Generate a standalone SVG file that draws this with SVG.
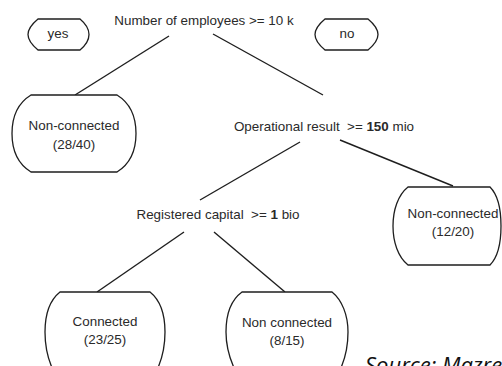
<svg xmlns="http://www.w3.org/2000/svg" width="502" height="366" viewBox="0 0 502 366">
<style>
.t{font-family:"Liberation Sans",Arial,sans-serif;font-size:13.4px;fill:#2a2a2a;text-anchor:middle;white-space:pre}
.b{fill:#fff;stroke:#1e1e1e;stroke-width:1.3}
.c{stroke:#1e1e1e;stroke-width:1.4;fill:none}
.src{font-family:"Open Sans",sans-serif;font-style:italic;font-size:22px;fill:#111}
</style>
<rect width="502" height="366" fill="#fff"/>
<g id="connectors">
<line class="c" x1="169" y1="36" x2="75" y2="95"/>
<line class="c" x1="213" y1="34" x2="323" y2="95"/>
<line class="c" x1="300" y1="142" x2="200" y2="200"/>
<line class="c" x1="340" y1="140" x2="453" y2="186"/>
<line class="c" x1="184" y1="232" x2="97" y2="292"/>
<line class="c" x1="214" y1="232" x2="285" y2="292"/>
</g>
<g id="yes">
<path class="b" d="M38,19 H80 C86,24 89,29 89,34.5 C89,40 86,45 80,50 H38 C32,45 28,40 28,34.5 C28,29 32,24 38,19 Z"/>
<text class="t" x="58" y="38">yes</text>
</g>
<g id="no">
<path class="b" d="M325,19 H368 C374,24 378,29 378,34.5 C378,40 374,45 368,50 H325 C319,45 315,40 315,34.5 C315,29 319,24 325,19 Z"/>
<text class="t" x="347" y="38">no</text>
</g>
<g id="employees">
<text class="t" x="204" y="25">Number of employees &gt;= 10 k</text>
</g>
<g id="nc1">
<path class="b" d="M31,95 H117 C130,103 136,117 136,133.5 C136,150 130,164 117,172 H31 C18,164 12,150 12,133.5 C12,117 18,103 31,95 Z"/>
<text class="t" x="74" y="130">Non-connected</text>
<text class="t" x="74" y="149">(28/40)</text>
</g>
<g id="operational">
<text class="t" x="324" y="131">Operational result  &gt;= <tspan font-weight="bold">150</tspan> mio</text>
</g>
<g id="nc2">
<path class="b" d="M408,187 H490 C498,195 501,210 501,226 C501,242 498,257 490,265 H408 C398,257 393,242 393,226 C393,210 398,195 408,187 Z"/>
<text class="t" x="453" y="218">Non-connected</text>
<text class="t" x="453" y="236">(12/20)</text>
</g>
<g id="registered">
<text class="t" x="218" y="219">Registered capital  &gt;= <tspan font-weight="bold">1</tspan> bio</text>
</g>
<g id="connected">
<path class="b" d="M60,292 H150 C160,300 165,315 165,332 C165,348 162,360 156,372 H54 C48,360 45,348 45,332 C45,315 50,300 60,292 Z"/>
<text class="t" x="105" y="326">Connected</text>
<text class="t" x="105" y="344">(23/25)</text>
</g>
<g id="nc3">
<path class="b" d="M242,292 H332 C342,300 348,315 348,332 C348,348 345,360 339,372 H236 C230,360 226,348 226,332 C226,315 231,300 242,292 Z"/>
<text class="t" x="287" y="327">Non connected</text>
<text class="t" x="287" y="345">(8/15)</text>
</g>
<text class="src" x="365" y="373">Source: Mazre</text>
</svg>
